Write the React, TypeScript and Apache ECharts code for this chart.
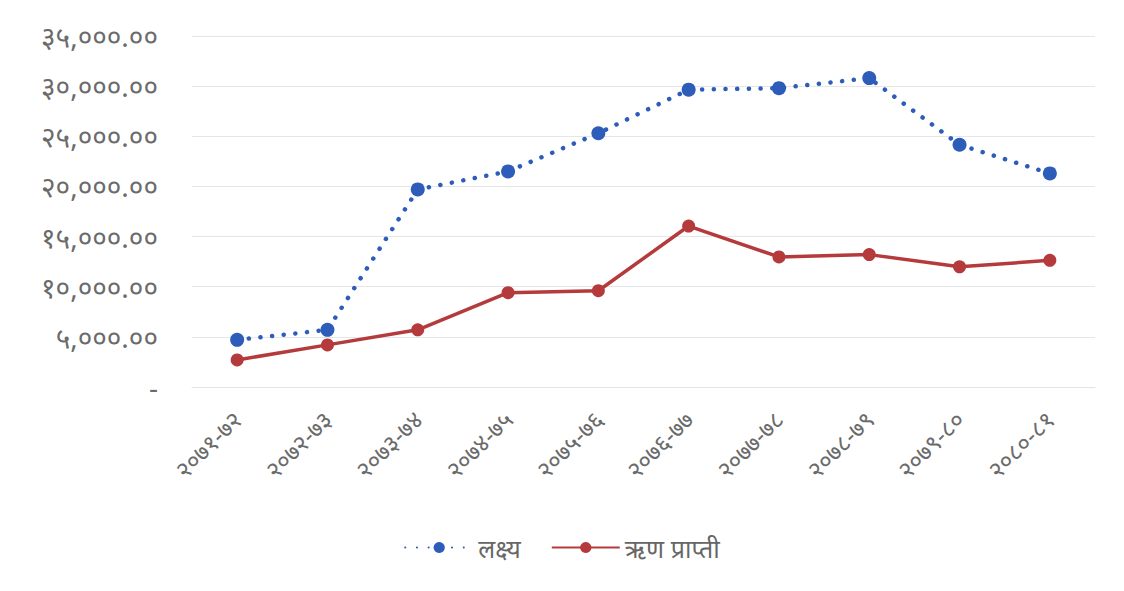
import React, { useEffect, useRef } from "react";
import * as echarts from "echarts";

const categories = [
  "२०७१-७२", "२०७२-७३", "२०७३-७४", "२०७४-७५", "२०७५-७६",
  "२०७६-७७", "२०७७-७८", "२०७८-७९", "२०७९-८०", "२०८०-८१",
];
const targetValues = [4700, 5700, 19700, 21500, 25300, 29650, 29800, 30800, 24150, 21300];
const receivedValues = [2700, 4200, 5700, 9400, 9600, 16050, 12970, 13200, 11980, 12630];
const seriesNames = ["लक्ष्य", "ऋण प्राप्ती"];

const devDigits = "०१२३४५६७८९";
function toDev(s: string) {
  return s.replace(/[0-9]/g, (d) => devDigits[+d]);
}
function fmt(v: number) {
  if (v === 0) return "-";
  const s = v.toLocaleString("en-US", { minimumFractionDigits: 2, maximumFractionDigits: 2 });
  return toDev(s);
}

export default function App() {
  const ref = useRef<HTMLDivElement>(null);
  useEffect(() => {
    const chart = echarts.init(ref.current!, null, { renderer: "svg" });
    const font = "'Noto Sans', 'DejaVu Sans', sans-serif";
    chart.setOption({
      animation: false,
      backgroundColor: "#ffffff",
      textStyle: { fontFamily: font },
      grid: { left: 184, right: 21, top: 28, bottom: 196, containLabel: false },
      legend: {
        bottom: 18,
        left: "center",
        itemWidth: 68,
        itemHeight: 14,
        itemGap: 30,
        textStyle: { fontSize: 25, color: "#666666", fontFamily: font },
        data: seriesNames,
      },
      xAxis: {
        type: "category",
        data: categories,
        boundaryGap: true,
        axisLine: { show: true, lineStyle: { color: "#e3e3e3", width: 1 } },
        axisTick: { show: false },
        axisLabel: { rotate: 45, fontSize: 24, color: "#6b6b6b", margin: 28, fontFamily: font },
      },
      yAxis: {
        type: "value",
        min: 0,
        max: 35000,
        interval: 5000,
        axisLine: { show: false },
        axisTick: { show: false },
        splitLine: { lineStyle: { color: "#e6e6e6", width: 1 } },
        axisLabel: { fontSize: 28, color: "#6b6b6b", margin: 34, formatter: (v: number) => fmt(v), fontFamily: font },
      },
      series: [
        {
          name: seriesNames[0],
          type: "line",
          data: targetValues,
          symbol: "circle",
          symbolSize: 14,
          itemStyle: { color: "#2D5DB9" },
          lineStyle: { color: "#2D5DB9", width: 4.5, type: [0.1, 11.6], cap: "round" },
        },
        {
          name: seriesNames[1],
          type: "line",
          data: receivedValues,
          symbol: "circle",
          symbolSize: 13,
          itemStyle: { color: "#B53A3C" },
          lineStyle: { color: "#B53A3C", width: 3.5 },
        },
      ],
    });
    return () => chart.dispose();
  }, []);
  return <div ref={ref} style={{ width: 1108, height: 575 }} />;
}
